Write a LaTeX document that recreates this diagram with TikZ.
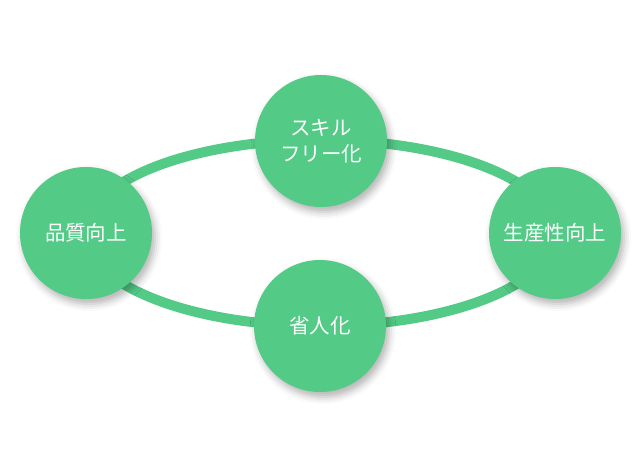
\documentclass[tikz,border=0pt]{standalone}
\usepackage{fontspec}
\newfontfamily\cjk{Noto Sans CJK JP}
\usetikzlibrary{shadows.blur}
\definecolor{leafgreen}{RGB}{84,202,135}
\tikzset{
  goal/.style={circle, fill=leafgreen, minimum size=132pt, inner sep=0pt,
    text=white, align=center, font=\cjk\fontsize{20.5}{26}\selectfont,
    blur shadow={shadow xshift=3pt, shadow yshift=-5pt, shadow blur radius=7pt, shadow opacity=30}},
  ring/.style={draw=leafgreen, line width=10pt}
}
\begin{document}
\begin{tikzpicture}[x=1pt,y=1pt]
    \useasboundingbox (0,0) rectangle (640,476);
    \coordinate (mid) at (320,243);
    \draw[ring] (mid) ellipse [x radius=235, y radius=93];
    \node[goal] (skill) at (321,335) {スキル\\フリー化};
    \node[goal] (quality) at (86,243) {品質向上};
    \node[goal] (product) at (555,243) {生産性向上};
    \node[goal] (labor) at (320,150) {省人化};
  \end{tikzpicture}
\end{document}
